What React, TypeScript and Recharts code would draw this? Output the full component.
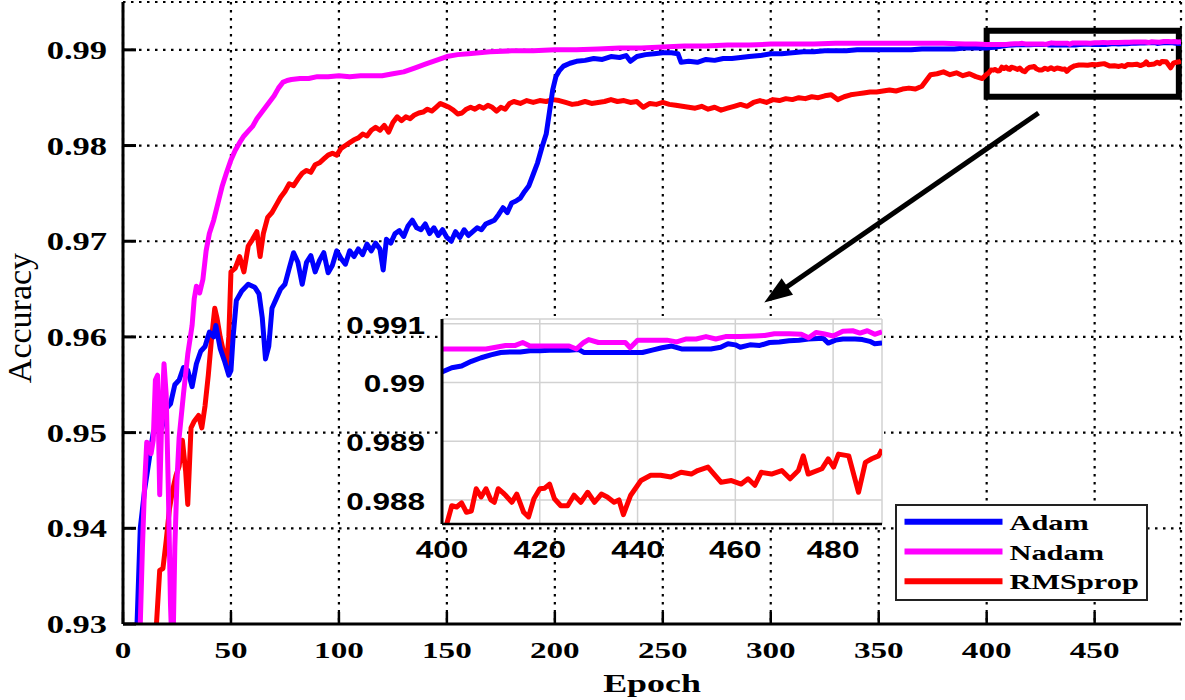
import React from 'react';
import {
  LineChart,
  Line,
  XAxis,
  YAxis,
  CartesianGrid,
  Legend,
  ReferenceArea,
  ReferenceLine,
} from 'recharts';

// ---------- series identity ----------
const SERIES_NAMES = ['Adam', 'Nadam', 'RMSprop'];
const SERIES_COLORS: Record<string, string> = { Adam: '#0000ff', Nadam: '#ff00ff', RMSprop: '#ff0000' };

// ---------- tick labels ----------
const mainXTicks = [0, 50, 100, 150, 200, 250, 300, 350, 400, 450];
const mainYTicks = [0.93, 0.94, 0.95, 0.96, 0.97, 0.98, 0.99];
const insetXTicks = [400, 420, 440, 460, 480];
const insetYTicks = [0.988, 0.989, 0.99, 0.991];

// ---------- Adam (epochs 0-395) ----------
const adamEpochs = [5,6.5,8,10,12,14,16,18,20,22,24,26,28,30,32,34,36,38,40,42,43,45,47,49,50,51,52.5,55,58,61,63,64.5,66,67.5,69,71,73,75,77,79,81,83,85,87,89,91,93,95,97,99,101,103,105,107,109,111,113,115,117,119,120.5,122,124,126,128,130,132,134,136,138,140,142,144,146,148,150,152,154,156,158,160,162,164,166,168,170,172,174,176,178,180,182,184,186,188,190,192,194,196,197.5,199,200.5,202,204,207,210,214,218,222,226,230,233,235,238,242,246,250,254,257,258.5,262,266,270,274,278,282,286,290,295,300,305,310,315,320,325,330,335,340,345,350,355,360,365,370,375,380,385,390,395];
const adamAcc = [0.925,0.930,0.940,0.944,0.947,0.950,0.951,0.9505,0.9525,0.9530,0.9550,0.9555,0.9568,0.9565,0.9548,0.9572,0.9585,0.9590,0.9605,0.9600,0.9612,0.9588,0.9575,0.9560,0.9565,0.9600,0.9638,0.9648,0.9655,0.9652,0.9645,0.9620,0.9577,0.9590,0.9630,0.9640,0.9650,0.9655,0.9672,0.9688,0.9678,0.9655,0.9678,0.9685,0.9668,0.9680,0.9688,0.9667,0.9675,0.9690,0.9682,0.9676,0.9690,0.9684,0.9692,0.9686,0.9697,0.9690,0.9698,0.9692,0.9670,0.9702,0.9698,0.9708,0.9711,0.9705,0.9716,0.9722,0.9714,0.9712,0.9718,0.9708,0.9714,0.9706,0.9712,0.9704,0.9700,0.9710,0.9704,0.9712,0.9706,0.9710,0.9714,0.9712,0.9718,0.9720,0.9722,0.9728,0.9735,0.9730,0.9740,0.9742,0.9745,0.9752,0.9758,0.9770,0.9782,0.9798,0.9812,0.9835,0.9858,0.9872,0.9878,0.9883,0.9886,0.9888,0.9889,0.9891,0.9890,0.9893,0.9892,0.9894,0.9888,0.9893,0.9895,0.9896,0.9897,0.9897,0.9896,0.9887,0.9888,0.9887,0.9890,0.9889,0.9891,0.9891,0.9892,0.9893,0.9894,0.9896,0.9896,0.9897,0.9898,0.9898,0.9899,0.9899,0.9899,0.9900,0.9900,0.9900,0.9900,0.9900,0.9900,0.9901,0.9901,0.9901,0.9901,0.9902,0.9902];

// ---------- Nadam (epochs 0-395) ----------
const nadamEpochs = [7,8,9,10,11,12,13,14,15,16,17,18,19,20,21,22,23,24,25,26,28,30,32,33,34,35.5,37,38.5,40,42,44,46,48,50,52,54,56,58,60,62,64,66,68,70,72,74,76,78,82,86,90,95,100,105,110,115,120,125,130,135,140,145,150,155,160,165,170,180,190,200,210,220,230,240,250,260,270,280,290,300,310,320,330,340,350,360,370,380,390,395];
const nadamAcc = [0.925,0.930,0.938,0.9445,0.9490,0.9488,0.9478,0.9492,0.9555,0.9560,0.9435,0.9520,0.9572,0.9540,0.9440,0.9320,0.9255,0.9380,0.9450,0.9495,0.9540,0.9582,0.9612,0.9640,0.9653,0.9646,0.9660,0.9690,0.9708,0.9722,0.9740,0.9758,0.9772,0.9785,0.9795,0.9803,0.9810,0.9815,0.9820,0.9828,0.9834,0.9840,0.9846,0.9852,0.9860,0.9866,0.9868,0.9869,0.9870,0.9870,0.9872,0.9872,0.9873,0.9872,0.9873,0.9873,0.9873,0.9875,0.9877,0.9881,0.9885,0.9889,0.9893,0.9895,0.9896,0.9897,0.9898,0.9899,0.9899,0.9900,0.9900,0.9901,0.9902,0.9902,0.9903,0.9904,0.9904,0.9905,0.9905,0.9906,0.9906,0.9906,0.9907,0.9907,0.9907,0.9907,0.9907,0.9907,0.9906,0.9906];

// ---------- RMSprop (epochs 0-398) ----------
const rmsEpochs = [14,15.5,17,18.5,20,21.5,23,24.5,26,27.5,29,30,31.5,33,35,36.5,38,39.5,41,42.5,43.5,45,46.5,48,49,50,52,54,56,58,60,62,63.5,65,67,69,71,73,75,77,79,81,83,85,87,89,91,93,95,97,99,101,103,105,107,109,111,113,115,117,119,121,123,125,127,129,131,133,135,137,139,141,143,145,147,149,151,153,155,157,159,161,163,165,167,169,171,173,175,177,179,181,184,187,190,193,196,199,202,205,208,211,214,217,220,223,226,229,232,235,238,241,244,247,250,253,256,259,262,265,268,271,274,277,280,283,286,289,292,295,298,301,304,307,310,313,316,319,322,325,328,331,334,337,340,343,346,349,352,355,358,361,364,367,370,372,374,377,380,383,386,389,392,395,398];
const rmsAcc = [0.925,0.930,0.9356,0.9358,0.9387,0.9420,0.9440,0.9455,0.9465,0.9492,0.9460,0.9425,0.9505,0.9512,0.9518,0.9505,0.9528,0.9560,0.9598,0.9630,0.9620,0.9600,0.9585,0.9570,0.9600,0.9668,0.9672,0.9684,0.9668,0.9695,0.9702,0.9710,0.9684,0.9708,0.9725,0.9730,0.9738,0.9746,0.9752,0.9760,0.9758,0.9765,0.9771,0.9774,0.9772,0.9780,0.9782,0.9786,0.9790,0.9792,0.9790,0.9797,0.9800,0.9803,0.9806,0.9808,0.9812,0.9810,0.9816,0.9819,0.9816,0.9821,0.9814,0.9824,0.9830,0.9826,0.9830,0.9828,0.9832,0.9834,0.9835,0.9838,0.9836,0.9840,0.9844,0.9842,0.9840,0.9837,0.9833,0.9834,0.9838,0.9840,0.9838,0.9841,0.9839,0.9842,0.9840,0.9836,0.9840,0.9838,0.9844,0.9846,0.9844,0.9847,0.9845,0.9847,0.9846,0.9848,0.9847,0.9845,0.9843,0.9844,0.9846,0.9844,0.9845,0.9846,0.9848,0.9846,0.9847,0.9845,0.9846,0.9840,0.9844,0.9843,0.9845,0.9843,0.9842,0.9841,0.9840,0.9839,0.9841,0.9838,0.9840,0.9837,0.9839,0.9841,0.9843,0.9841,0.9845,0.9847,0.9845,0.9848,0.9847,0.9849,0.9848,0.9850,0.9849,0.9851,0.9850,0.9852,0.9853,0.9848,0.9851,0.9853,0.9854,0.9855,0.9856,0.9856,0.9857,0.9858,0.9857,0.9859,0.9860,0.9859,0.9862,0.9868,0.9874,0.9875,0.9877,0.9874,0.9876,0.9873,0.9875,0.9872,0.9870];

// ---------- zoomed window (epochs 400-490) ----------
const insetAdamEpochs = [400,402,404,406,408,410,412,414,416,418,420,422,424,426,428,429,432,435,438,441,443,445,447,449,452,455,457,458.5,460,461,463,465,467,469,471,473,475,477,478,479,480.5,482,484.5,486,487.5,488.5,490];
const insetAdamAcc = [0.99018,0.99025,0.99028,0.99036,0.99042,0.99047,0.99051,0.99052,0.99052,0.99054,0.99054,0.99055,0.99055,0.99055,0.99056,0.99051,0.99051,0.99051,0.99051,0.99051,0.99055,0.99059,0.99062,0.99057,0.99057,0.99057,0.9906,0.99066,0.99064,0.9906,0.99064,0.99063,0.99068,0.99069,0.99071,0.99072,0.99074,0.99075,0.99075,0.99067,0.99072,0.99074,0.99074,0.99073,0.99070,0.99066,0.99067];

const insetNadamEpochs = [400,403,406,409,411,413,415,416.5,418,421,424,426,427.5,429,430,432,435,437.5,438.5,440,443,446,448,450,452,454,456,458,461,464,466,468,471,473.5,475,476.5,478,480,482,484,485.5,487,488.5,490];
const insetNadamAcc = [0.99057,0.99057,0.99057,0.99057,0.9906,0.99063,0.99063,0.99068,0.99062,0.99062,0.99062,0.99062,0.99057,0.99068,0.99073,0.99068,0.99068,0.99068,0.99059,0.99072,0.99072,0.99072,0.99069,0.99074,0.99074,0.99078,0.99074,0.99078,0.99078,0.99079,0.9908,0.99083,0.99083,0.99082,0.99076,0.99085,0.99083,0.99079,0.99087,0.99088,0.99084,0.99088,0.99082,0.99086];

const insetRmsEpochs = [400,401,402,403,404,405,406,407,408,409,410,410.7,411.5,412.5,413,414.3,415.3,416.7,417.7,418.8,420,421,422,423,424.3,425.7,427,428.4,429.8,431.2,432.6,433.8,435.2,436.2,437.1,438.6,440.7,442.7,444.7,446.8,448.9,451,452.3,454.4,457.1,459.2,461.2,462.6,464,465.3,467.4,469.5,471.2,472.9,473.9,474.9,477.7,479,480.1,481.1,483.2,485.2,486.6,487.9,489.3,490];
const insetRmsAcc = [0.98745,0.98760,0.98790,0.98788,0.98795,0.98779,0.98781,0.98819,0.98805,0.98819,0.98800,0.98796,0.98819,0.98812,0.98808,0.98796,0.98810,0.98779,0.98771,0.98802,0.98819,0.98820,0.98827,0.98802,0.98790,0.98790,0.98808,0.98796,0.98813,0.98796,0.98810,0.98805,0.98796,0.98800,0.98775,0.98808,0.98833,0.98842,0.98842,0.98839,0.98847,0.98844,0.98850,0.98856,0.98830,0.98833,0.98827,0.98836,0.98825,0.98847,0.98844,0.98850,0.98836,0.98850,0.98875,0.98844,0.98853,0.98870,0.98856,0.98878,0.98875,0.98813,0.98864,0.98870,0.98875,0.98886];

// ---------- zoom box & arrow (data coordinates) ----------
const zoomBox = { x1: 400, x2: 489, y1: 0.9851, y2: 0.992 };
const arrowFrom = { x: 424, y: 0.9834 };
const arrowTo = { x: 297, y: 0.9636 };

// ---------- build tables ----------
type Pt = { epoch: number; acc: number };
const zip = (e: number[], v: number[]): Pt[] => {
  const n = Math.min(e.length, v.length);
  const out: Pt[] = [];
  for (let i = 0; i < n; i++) out.push({ epoch: e[i], acc: v[i] });
  return out;
};
const insetAdam = zip(insetAdamEpochs, insetAdamAcc);
const insetNadam = zip(insetNadamEpochs, insetNadamAcc);
const insetRms = zip(insetRmsEpochs, insetRmsAcc);
const mainAdam = zip(adamEpochs, adamAcc).concat(insetAdam);
const mainNadam = zip(nadamEpochs, nadamAcc).concat(insetNadam);
const mainRms = zip(rmsEpochs, rmsAcc).concat(insetRms);

// ---------- styling helpers ----------
const SERIF = '"Liberation Serif", "Times New Roman", serif';
const SANS = '"Liberation Sans", Arial, sans-serif';
const SX = 1.38;

const MainXTick = (props: any) => {
  const { x, y, payload } = props;
  return (
    <g>
      <line x1={x} x2={x} y1={y} y2={y - 12} stroke="#000" strokeWidth={2.5} />
      <text
        transform={`translate(${x},${y + 34}) scale(${SX},1)`}
        textAnchor="middle"
        fontFamily={SERIF}
        fontWeight="bold"
        fontSize={24}
        fill="#000"
      >
        {payload.value}
      </text>
    </g>
  );
};

const MainYTick = (props: any) => {
  const { x, y, payload } = props;
  return (
    <g>
      <line x1={x} x2={x + 13} y1={y} y2={y} stroke="#000" strokeWidth={3} />
      <text
        transform={`translate(${x - 16},${y + 9}) scale(${SX},1)`}
        textAnchor="end"
        fontFamily={SERIF}
        fontWeight="bold"
        fontSize={25}
        fill="#000"
      >
        {Number(payload.value).toFixed(2)}
      </text>
    </g>
  );
};

const InsetXTick = (props: any) => {
  const { x, y, payload } = props;
  return (
    <text
      transform={`translate(${x},${y + 34}) scale(1.37,1)`}
      textAnchor="middle"
      fontFamily={SANS}
      fontWeight="bold"
      fontSize={23}
      fill="#000"
    >
      {payload.value}
    </text>
  );
};

const InsetYTick = (props: any) => {
  const { x, y, payload } = props;
  return (
    <text
      transform={`translate(${x - 17},${y + 10}) scale(1.37,1)`}
      textAnchor="end"
      fontFamily={SANS}
      fontWeight="bold"
      fontSize={23}
      fill="#000"
    >
      {String(parseFloat(Number(payload.value).toFixed(3)))}
    </text>
  );
};

const ArrowShape = (p: any) => {
  const { x1, y1, x2, y2 } = p;
  const dx = x2 - x1;
  const dy = y2 - y1;
  const len = Math.hypot(dx, dy) || 1;
  const ux = dx / len;
  const uy = dy / len;
  const hl = 28;
  const hw = 10;
  const bx = x2 - ux * hl;
  const by = y2 - uy * hl;
  const pts = `${x2},${y2} ${bx - uy * hw},${by + ux * hw} ${bx + uy * hw},${by - ux * hw}`;
  return (
    <g>
      <line x1={x1} y1={y1} x2={bx + ux * 6} y2={by + uy * 6} stroke="#000" strokeWidth={5} />
      <polygon points={pts} fill="#000" />
    </g>
  );
};

const renderLegend = (props: any) => {
  const payload = [...(props.payload || [])].sort(
    (a: any, b: any) => SERIES_NAMES.indexOf(a.value) - SERIES_NAMES.indexOf(b.value)
  );
  return (
    <div
      style={{
        width: 253,
        height: 97,
        boxSizing: 'border-box',
        border: '2.5px solid #222',
        background: '#fff',
      }}
    >
      <svg width={248} height={92} style={{ display: 'block' }}>
        {payload.map((e: any, i: number) => {
          const cy = 15.8 + i * 29.7;
          return (
            <g key={e.value}>
              <line x1={7.5} x2={105.5} y1={cy} y2={cy} stroke={e.color} strokeWidth={6} />
              <text
                transform={`translate(112.5,${cy + 8}) scale(${SX},1)`}
                fontFamily={SERIF}
                fontWeight="bold"
                fontSize={22}
                fill="#000"
              >
                {e.value}
              </text>
            </g>
          );
        })}
      </svg>
    </div>
  );
};

const yLabel = (p: any) => {
  const vb = p.viewBox || { x: 0, y: 2, width: 123, height: 622 };
  const cy = vb.y + vb.height / 2 + 5;
  return (
    <text
      transform={`translate(31,${cy}) rotate(-90)`}
      textAnchor="middle"
      fontFamily={SERIF}
      fontSize={34}
      fill="#000"
    >
      Accuracy
    </text>
  );
};

const xLabel = (p: any) => {
  const vb = p.viewBox || { x: 123, y: 624, width: 1058, height: 60 };
  const cx = vb.x + vb.width / 2;
  return (
    <text
      transform={`translate(${cx},${vb.y + 68}) scale(${SX},1)`}
      textAnchor="middle"
      fontFamily={SERIF}
      fontWeight="bold"
      fontSize={26}
      fill="#000"
    >
      Epoch
    </text>
  );
};

export default function App() {
  return (
    <div style={{ position: 'absolute', left: 0, top: 0, width: 1185, height: 700, background: '#fff' }}>
      <LineChart width={1185} height={700} margin={{ top: 2, right: 4, bottom: 16, left: 0 }}>
        <CartesianGrid stroke="#000" strokeWidth={2.2} strokeDasharray="2.5 5.5" />
        <XAxis
          type="number"
          dataKey="epoch"
          domain={[0, 490]}
          ticks={mainXTicks}
          allowDataOverflow
          height={60}
          tickSize={0}
          tickMargin={0}
          tickLine={false}
          axisLine={{ stroke: '#000', strokeWidth: 3 }}
          tick={<MainXTick />}
          label={{ content: xLabel }}
        />
        <YAxis
          type="number"
          domain={[0.93, 0.995]}
          ticks={mainYTicks}
          allowDataOverflow
          width={123}
          tickSize={0}
          tickMargin={0}
          tickLine={false}
          axisLine={{ stroke: '#000', strokeWidth: 3 }}
          tick={<MainYTick />}
          label={{ content: yLabel }}
        />
        <Line
          data={mainRms}
          dataKey="acc"
          name="RMSprop"
          type="linear"
          stroke={SERIES_COLORS.RMSprop}
          strokeWidth={5}
          strokeLinejoin="round"
          dot={false}
          activeDot={false}
          isAnimationActive={false}
        />
        <Line
          data={mainAdam}
          dataKey="acc"
          name="Adam"
          type="linear"
          stroke={SERIES_COLORS.Adam}
          strokeWidth={5}
          strokeLinejoin="round"
          dot={false}
          activeDot={false}
          isAnimationActive={false}
        />
        <Line
          data={mainNadam}
          dataKey="acc"
          name="Nadam"
          type="linear"
          stroke={SERIES_COLORS.Nadam}
          strokeWidth={5}
          strokeLinejoin="round"
          dot={false}
          activeDot={false}
          isAnimationActive={false}
        />
        <ReferenceArea
          x1={zoomBox.x1}
          x2={zoomBox.x2}
          y1={zoomBox.y1}
          y2={zoomBox.y2}
          fill="none"
          fillOpacity={0}
          stroke="#000"
          strokeWidth={6}
          ifOverflow="visible"
        />
        <ReferenceLine
          segment={[arrowFrom, arrowTo]}
          stroke="#000"
          strokeWidth={5}
          ifOverflow="visible"
          shape={ArrowShape}
        />
        <Legend
          layout="horizontal"
          verticalAlign="middle"
          align="center"
          content={renderLegend}
          wrapperStyle={{ position: 'absolute', left: 895, top: 504, width: 253, height: 97 }}
        />
      </LineChart>

      {/* zoomed inset */}
      <div style={{ position: 'absolute', left: 330, top: 300, width: 560, height: 270 }}>
        <div
          style={{ position: 'absolute', left: 110, top: 16, width: 444, height: 210, background: '#fff' }}
        />
        <div style={{ position: 'absolute', left: 0, top: 0 }}>
          <LineChart width={560} height={270} margin={{ top: 19, right: 8, bottom: 10, left: 0 }}>
            <CartesianGrid stroke="#d2d2d2" strokeWidth={1.5} />
            <XAxis
              type="number"
              dataKey="epoch"
              domain={[400, 490]}
              ticks={insetXTicks}
              allowDataOverflow
              height={36}
              tickSize={0}
              tickMargin={0}
              tickLine={false}
              axisLine={{ stroke: '#000', strokeWidth: 2.5 }}
              tick={<InsetXTick />}
            />
            <YAxis
              type="number"
              domain={[0.98759, 0.99108]}
              ticks={insetYTicks}
              allowDataOverflow
              width={112}
              tickSize={0}
              tickMargin={0}
              tickLine={false}
              axisLine={{ stroke: '#000', strokeWidth: 3 }}
              tick={<InsetYTick />}
            />
            <Line
              data={insetRms}
              dataKey="acc"
              name="RMSprop"
              type="linear"
              stroke={SERIES_COLORS.RMSprop}
              strokeWidth={5}
              strokeLinejoin="round"
              dot={false}
              activeDot={false}
              isAnimationActive={false}
            />
            <Line
              data={insetAdam}
              dataKey="acc"
              name="Adam"
              type="linear"
              stroke={SERIES_COLORS.Adam}
              strokeWidth={5}
              strokeLinejoin="round"
              dot={false}
              activeDot={false}
              isAnimationActive={false}
            />
            <Line
              data={insetNadam}
              dataKey="acc"
              name="Nadam"
              type="linear"
              stroke={SERIES_COLORS.Nadam}
              strokeWidth={5}
              strokeLinejoin="round"
              dot={false}
              activeDot={false}
              isAnimationActive={false}
            />
          </LineChart>
        </div>
      </div>
    </div>
  );
}
